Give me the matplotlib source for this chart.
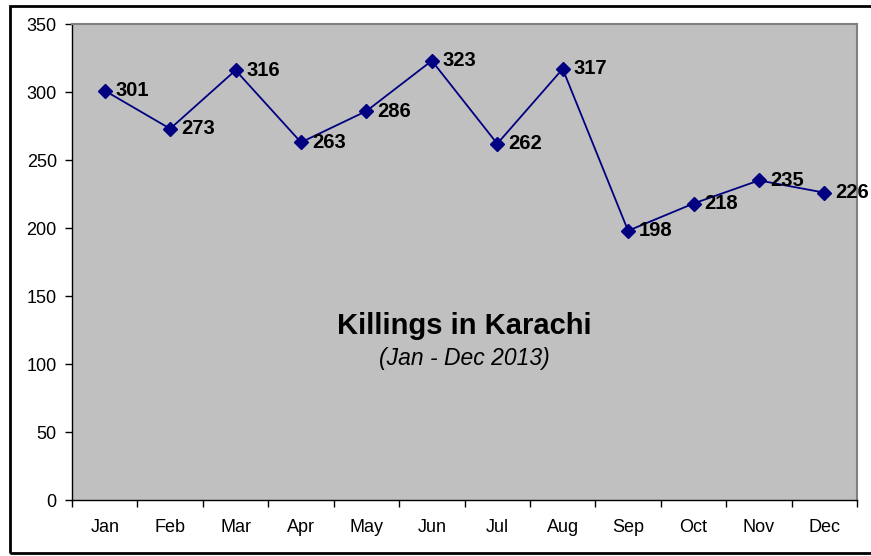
import matplotlib
matplotlib.use("Agg")
import matplotlib.pyplot as plt
from matplotlib.patches import Rectangle

# Monthly killings in Karachi, 2013
months = ['Jan', 'Feb', 'Mar', 'Apr', 'May', 'Jun', 'Jul', 'Aug', 'Sep', 'Oct', 'Nov', 'Dec']
killings = [301, 273, 316, 263, 286, 323, 262, 317, 198, 218, 235, 226]
y_ticks = [0, 50, 100, 150, 200, 250, 300, 350]

plt.rcParams['font.family'] = ['Liberation Sans', 'DejaVu Sans']

fig = plt.figure(figsize=(8.71, 5.56), dpi=100)
ax = fig.add_axes([0.0827, 0.1007, 0.9013, 0.8561])
ax.set_facecolor('#C0C0C0')

x = list(range(len(months)))
ax.plot(x, killings, color='#000080', linewidth=1.3, marker='D', markersize=7,
        markerfacecolor='#000080', markeredgecolor='#000080')

for xi, v in zip(x, killings):
    ax.annotate(str(v), (xi, v), xytext=(8, 0), textcoords='offset points',
                ha='left', va='center', fontsize=14.5, fontweight='bold', color='black',
                annotation_clip=False)

ax.set_xlim(-0.5, len(months) - 0.5)
ax.set_ylim(0, 350)
ax.set_yticks(y_ticks)
ax.set_yticklabels([str(t) for t in y_ticks], fontsize=13)

# category labels sit between tick marks, like Excel
ax.set_xticks([i - 0.5 for i in range(len(months) + 1)])
ax.set_xticklabels([])
ax.set_xticks(x, minor=True)
ax.set_xticklabels(months, minor=True, fontsize=13)
ax.tick_params(axis='x', which='minor', length=0, pad=14)
ax.tick_params(axis='x', which='major', length=5, width=1, direction='out')
ax.tick_params(axis='y', length=5, width=1, direction='out', pad=6)

for side in ['top', 'right']:
    ax.spines[side].set_color('#808080')
    ax.spines[side].set_linewidth(1.5)
for side in ['left', 'bottom']:
    ax.spines[side].set_color('black')
    ax.spines[side].set_linewidth(1)

ax.text(0.5, 0.365, 'Killings in Karachi', transform=ax.transAxes, ha='center', va='center',
        fontsize=21, fontweight='bold')
ax.text(0.5, 0.298, '(Jan - Dec 2013)', transform=ax.transAxes, ha='center', va='center',
        fontsize=16.5, style='italic')

# outer frame around the chart
fig.patches.append(Rectangle((0.0115, 0.0054), 1.05, 0.9838, transform=fig.transFigure,
                             fill=False, edgecolor='black', linewidth=2))

plt.savefig('out.png', dpi=100)
